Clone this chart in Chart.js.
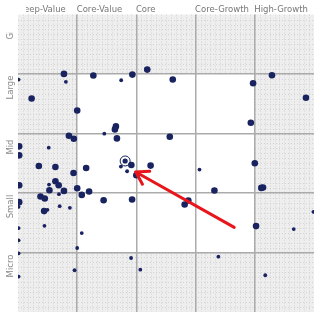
<!DOCTYPE html>
<html><head><meta charset="utf-8">
<script src="https://cdn.jsdelivr.net/npm/chart.js@4"></script>
<style>html,body{margin:0;padding:0;background:#fff;overflow:hidden}canvas{display:block}</style>
</head><body>
<canvas id="c" width="320" height="318"></canvas>
<script>
// Style (x) categories, left to right, and size (y) categories, top to bottom
const styleLabels = ['Deep-Value', 'Core-Value', 'Core', 'Core-Growth', 'High-Growth'];
const sizeLabels = ['Giant', 'Large', 'Mid', 'Small', 'Micro'];

// Holdings: style score (x), size score (y), holding weight class
const styleScores = [0.01,0.776,0.809,1.273,1.743,1.932,2.183,2.614,3.971,4.290,0.230,4.864,1.000,1.654,1.637,3.933,1.458,0.860,0.943,1.671,2.564,0.02,0.519,0.02,1.810,1.738,1.915,1.843,1.999,2.240,3.066,4.000,0.352,0.632,1.151,0.938,0.632,0.687,0.524,0.02,1.000,0.531,0.776,0.692,1.077,1.201,3.318,4.110,4.139,0.380,0.452,0.02,0.01,1.446,1.927,2.877,2.815,0.704,0.876,0.441,0.498,4.99,0.447,4.021,4.658,0.01,1.077,0.01,1.000,0.01,1.910,3.385,0.955,2.066,0.01,4.177];
const sizeScores = [3.907,4.003,3.869,3.975,3.896,3.991,4.075,3.908,3.846,3.980,3.589,3.601,3.388,3.120,3.070,3.182,2.998,2.964,2.914,2.919,2.947,2.785,2.763,2.634,2.539,2.445,2.472,2.366,2.299,2.461,2.394,2.500,2.455,2.438,2.421,2.337,2.198,2.131,2.143,2.131,2.081,2.048,2.036,1.981,1.969,2.026,2.043,2.086,2.093,1.942,1.909,1.847,1.768,1.880,1.892,1.875,1.808,1.779,1.751,1.696,1.717,1.684,1.449,1.444,1.394,1.411,1.327,1.205,1.076,0.987,0.908,0.930,0.702,0.712,0.595,0.618];
const holdingWeights = [1,2,1,2,1,2,2,2,2,2,2,2,2,2,2,2,1,2,2,2,2,2,1,2,1.5,1,2,1,2,2,1,2,2,2,2,2,2,2,1,2,2,2,2,1,2,2,2,2,2,2,2,2,1,2,2,2,2,1,1,2,1,1,1,2,1,1,1,1,1,1,1,1,1,1,1,1];

// Highlighted fund centroid and annotation arrow (in style/size units)
const highlightedFund = [{x: 1.810, y: 2.539}];
const arrowFrom = {x: 3.653, y: 1.423};
const arrowTo = {x: 1.989, y: 2.354};

const NAVY = '#182360';
const points = styleScores.map((x, i) => ({x, y: sizeScores[i]}));

const decor = {
  id: 'decor',
  beforeDraw(chart) {
    const {ctx, chartArea: a, scales: {x, y}} = chart;
    ctx.save();
    ctx.fillStyle = '#eeeeee';
    ctx.fillRect(a.left, a.top, a.right - a.left, a.bottom - a.top);
    ctx.strokeStyle = '#d3d3d3';
    ctx.lineWidth = 1;
    ctx.setLineDash([1, 2]);
    for (let i = 1; i < 60; i++) {
      const px = Math.round(x.getPixelForValue(i / 12)) + 0.5;
      ctx.beginPath(); ctx.moveTo(px, a.top); ctx.lineTo(px, a.bottom); ctx.stroke();
      const py = Math.round(y.getPixelForValue(i / 12)) + 0.5;
      ctx.beginPath(); ctx.moveTo(a.left, py); ctx.lineTo(a.right, py); ctx.stroke();
    }
    ctx.setLineDash([]);
    ctx.fillStyle = '#ffffff';
    const x1 = x.getPixelForValue(1), x4 = x.getPixelForValue(4);
    const y4 = y.getPixelForValue(4), y1 = y.getPixelForValue(1);
    ctx.fillRect(x1, y4, x4 - x1, y1 - y4);
    ctx.restore();
  },
  afterDatasetsDraw(chart) {
    const {ctx, scales: {x, y}} = chart;
    const x0 = x.getPixelForValue(arrowFrom.x), y0 = y.getPixelForValue(arrowFrom.y);
    const x1 = x.getPixelForValue(arrowTo.x), y1 = y.getPixelForValue(arrowTo.y);
    const ang = Math.atan2(y0 - y1, x0 - x1);
    const len = 14, half = 32 * Math.PI / 180;
    ctx.save();
    ctx.strokeStyle = '#e8161b';
    ctx.lineWidth = 3;
    ctx.lineCap = 'round';
    ctx.lineJoin = 'round';
    ctx.beginPath(); ctx.moveTo(x0, y0); ctx.lineTo(x1, y1); ctx.stroke();
    ctx.beginPath();
    ctx.moveTo(x1 + len * Math.cos(ang - half), y1 + len * Math.sin(ang - half));
    ctx.lineTo(x1, y1);
    ctx.lineTo(x1 + len * Math.cos(ang + half), y1 + len * Math.sin(ang + half));
    ctx.stroke();
    ctx.restore();
  },
  afterDraw(chart) {
    const {ctx, scales: {x, y}} = chart;
    ctx.save();
    ctx.font = '8.5px "DejaVu Sans", Verdana, sans-serif';
    ctx.fillStyle = '#767676';
    ctx.textBaseline = 'alphabetic';
    ctx.textAlign = 'left';
    styleLabels.forEach((t, i) => {
      ctx.save();
      if (i === 0) { ctx.beginPath(); ctx.rect(26, 0, 60, 20); ctx.clip(); }
      ctx.fillText(t, x.getPixelForValue(i) - 0.5, 12);
      ctx.restore();
    });
    ctx.fillStyle = '#8a8a8a';
    ctx.textAlign = 'center';
    ctx.textBaseline = 'middle';
    sizeLabels.forEach((t, i) => {
      ctx.save();
      if (i === 0) { ctx.beginPath(); ctx.rect(0, 32.5, 20, 30); ctx.clip(); }
      const cy = y.getPixelForValue(5 - i) + 13.5;
      ctx.translate(11, cy);
      ctx.rotate(-Math.PI / 2);
      ctx.fillText(t, 0, 0);
      ctx.restore();
    });
    ctx.restore();
  }
};

new Chart(document.getElementById('c'), {
  type: 'scatter',
  data: {
    datasets: [
      {
        data: points,
        backgroundColor: NAVY,
        borderWidth: 0,
        pointRadius: c => 0.5 + 1.4 * holdingWeights[c.dataIndex],
        clip: 0
      },
      {
        data: highlightedFund,
        backgroundColor: 'rgba(0,0,0,0)',
        borderColor: NAVY,
        borderWidth: 1,
        pointRadius: 5,
        clip: 0
      }
    ]
  },
  options: {
    responsive: false,
    animation: false,
    events: [],
    layout: {padding: {left: 18, right: 3.6, top: 14.6, bottom: 4.8}},
    plugins: {legend: {display: false}, tooltip: {enabled: false}},
    scales: {
      x: {
        type: 'linear', min: 0, max: 5,
        ticks: {display: false, stepSize: 1},
        border: {display: false},
        grid: {drawTicks: false, lineWidth: 1.5,
          color: c => (c.tick.value === 0 || c.tick.value === 5) ? 'rgba(0,0,0,0)' : '#ababab'}
      },
      y: {
        type: 'linear', min: 0, max: 5,
        ticks: {display: false, stepSize: 1},
        border: {display: false},
        grid: {drawTicks: false, lineWidth: 1.5,
          color: c => (c.tick.value === 0 || c.tick.value === 5) ? 'rgba(0,0,0,0)' : '#ababab'}
      }
    }
  },
  plugins: [decor]
});
</script>
</body></html>
